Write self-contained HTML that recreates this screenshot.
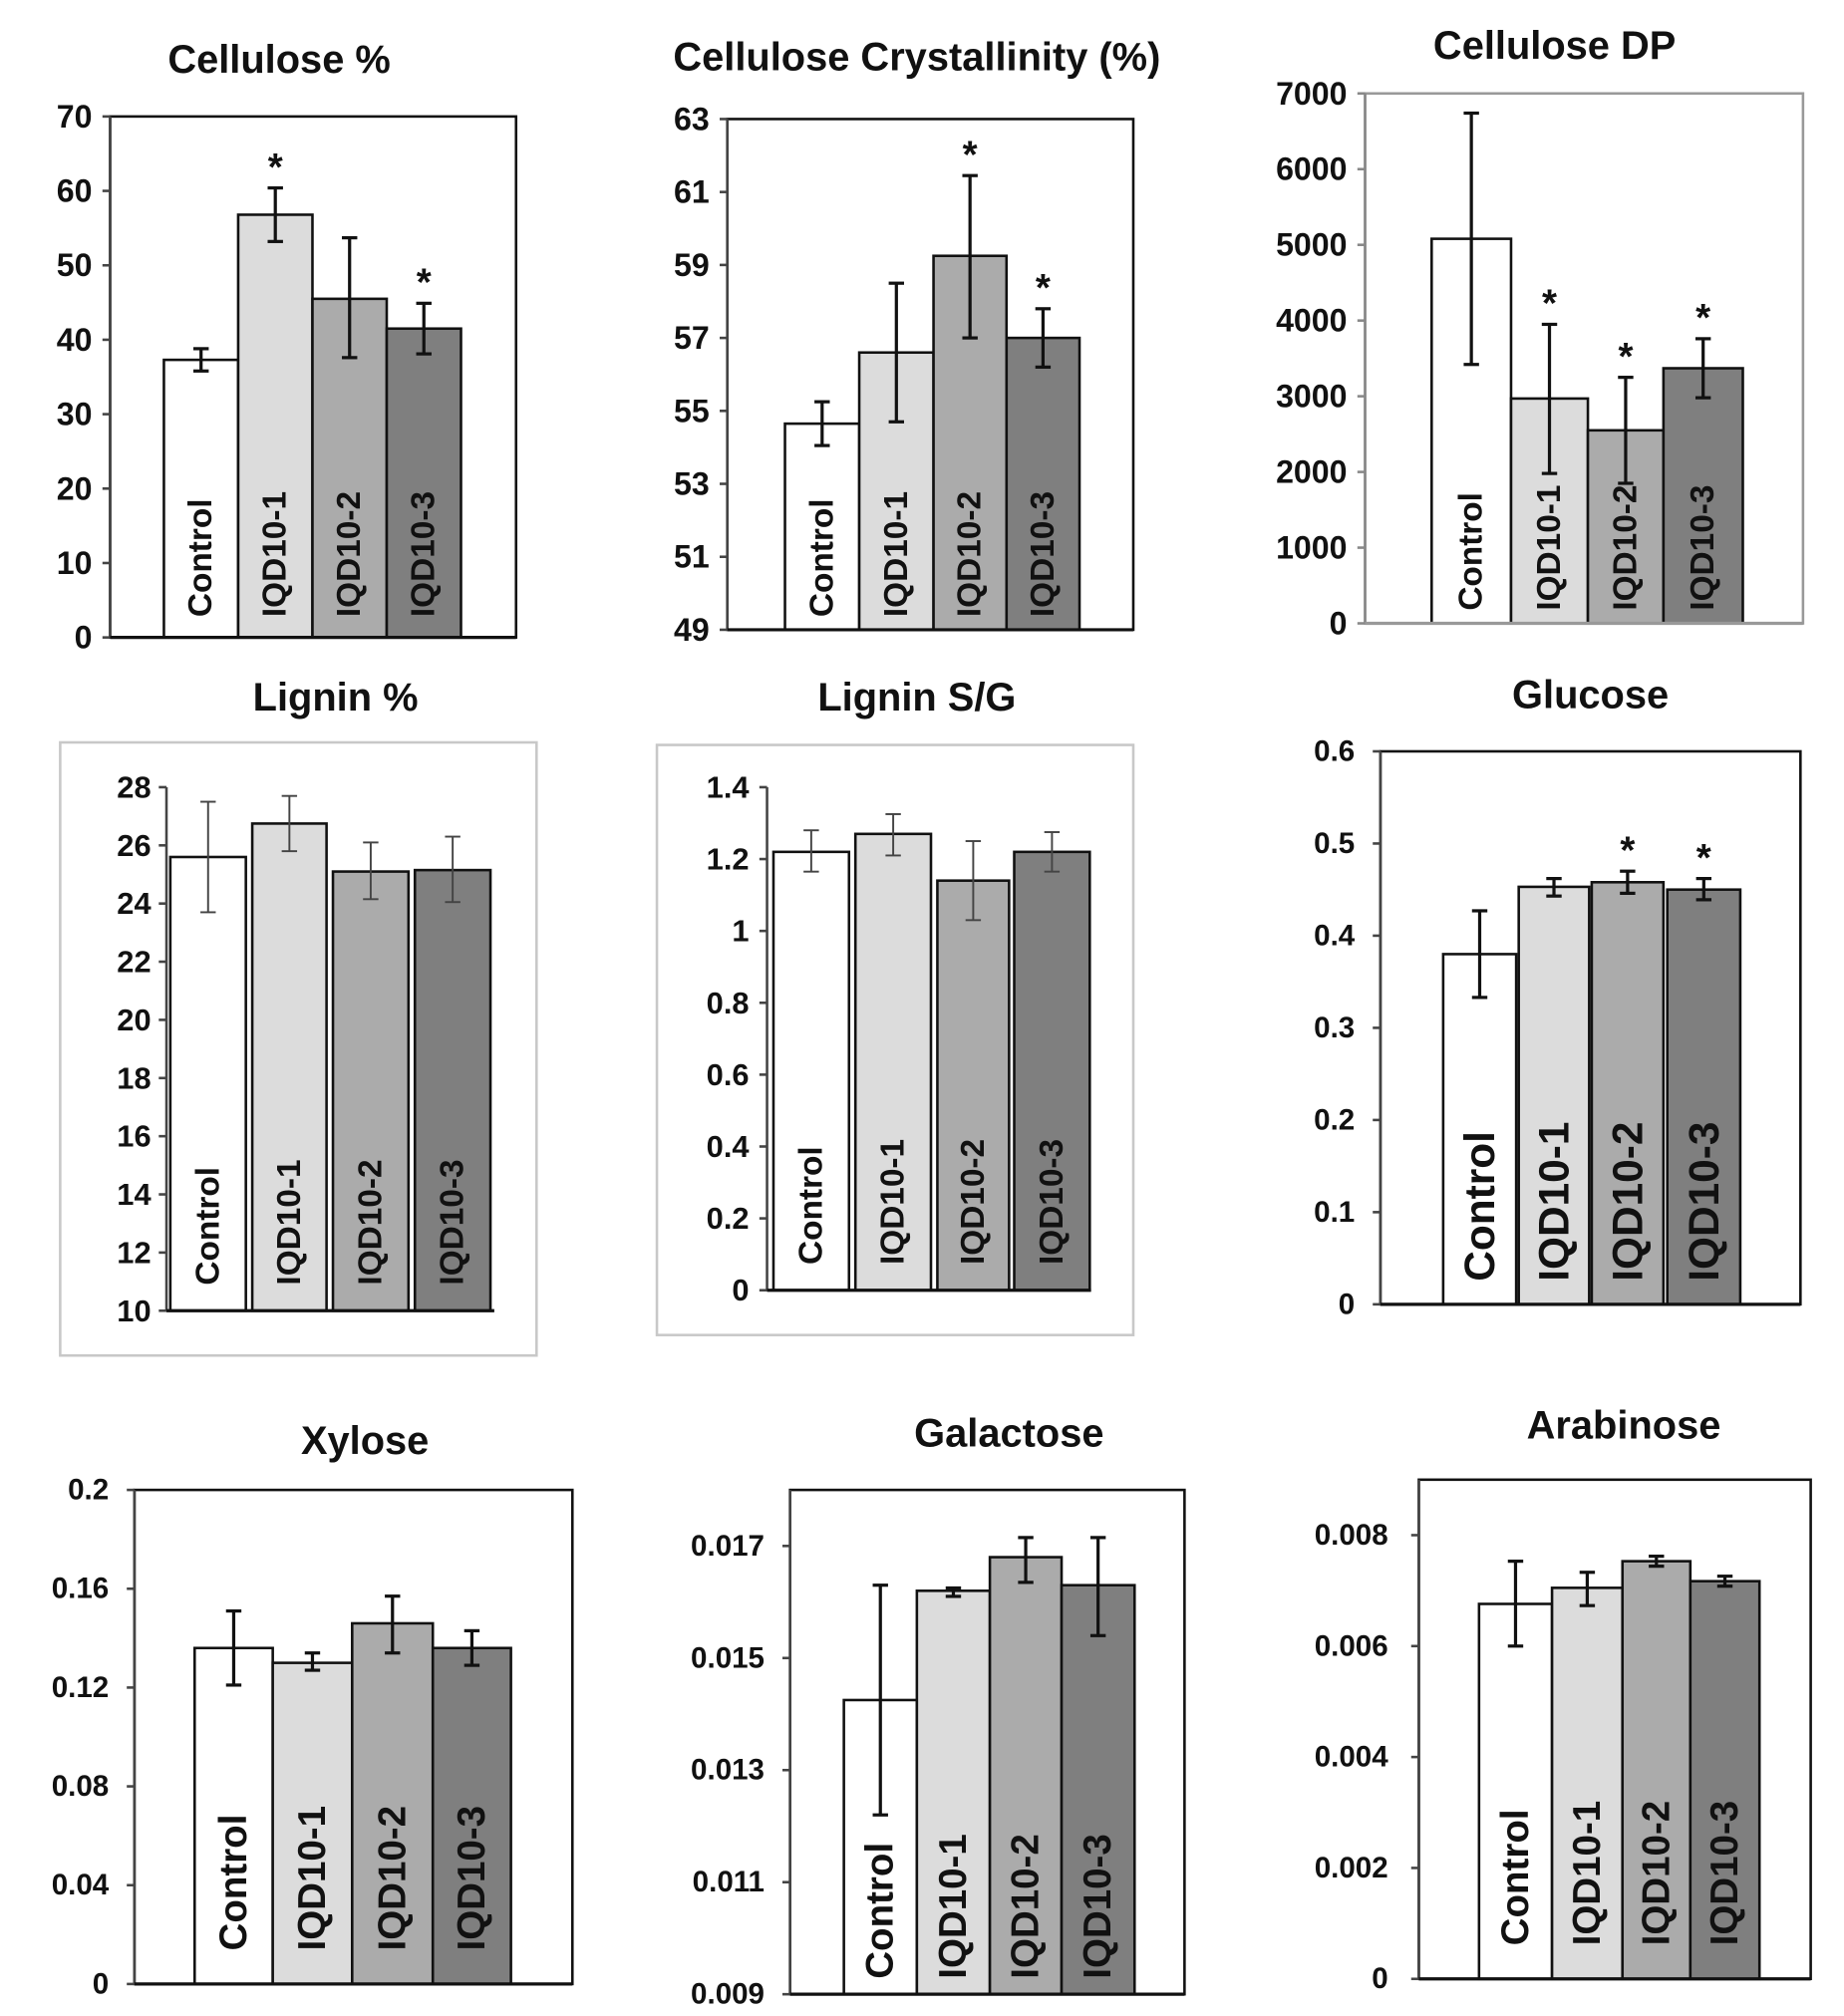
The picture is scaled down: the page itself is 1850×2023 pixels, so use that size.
<!DOCTYPE html>
<html><head><meta charset="utf-8">
<style>
html,body{margin:0;padding:0;background:#fff;}
svg{display:block;}
text{font-family:"Liberation Sans",sans-serif;font-weight:bold;fill:#111;}
</style></head>
<body>
<svg id="fig" width="1850" height="2023" viewBox="0 0 1440 1575" preserveAspectRatio="none" xmlns="http://www.w3.org/2000/svg"></svg>
<script>
// ---- data (means, error low, error high, significance stars) ----
const categories = ["Control","IQD10-1","IQD10-2","IQD10-3"];

const celluloseMean = [37.3, 56.8, 45.5, 41.5];
const celluloseLo   = [35.8, 53.2, 37.6, 38.1];
const celluloseHi   = [38.8, 60.4, 53.7, 44.9];
const celluloseStar = [0,1,0,1];
const celluloseTicks = [0,10,20,30,40,50,60,70];

const crystMean = [54.65, 56.6, 59.25, 57.0];
const crystLo   = [54.05, 54.7, 57.0, 56.2];
const crystHi   = [55.25, 58.5, 61.45, 57.8];
const crystStar = [0,0,1,1];
const crystTicks = [49,51,53,55,57,59,61,63];

const dpMean = [5080, 2970, 2550, 3370];
const dpLo   = [3420, 1980, 1850, 2980];
const dpHi   = [6740, 3950, 3250, 3760];
const dpStar = [0,1,1,1];
const dpTicks = [0,1000,2000,3000,4000,5000,6000,7000];

const ligninMean = [25.6, 26.75, 25.1, 25.15];
const ligninLo   = [23.7, 25.8, 24.15, 24.05];
const ligninHi   = [27.5, 27.7, 26.1, 26.3];
const ligninStar = [0,0,0,0];
const ligninTicks = [10,12,14,16,18,20,22,24,26,28];

const sgMean = [1.22, 1.27, 1.14, 1.22];
const sgLo   = [1.165, 1.21, 1.03, 1.165];
const sgHi   = [1.28, 1.325, 1.25, 1.275];
const sgStar = [0,0,0,0];
const sgTicks = [0,0.2,0.4,0.6,0.8,1,1.2,1.4];

const glucoseMean = [0.38, 0.453, 0.458, 0.45];
const glucoseLo   = [0.333, 0.443, 0.446, 0.439];
const glucoseHi   = [0.427, 0.462, 0.470, 0.462];
const glucoseStar = [0,0,1,1];
const glucoseTicks = [0,0.1,0.2,0.3,0.4,0.5,0.6];

const xyloseMean = [0.136, 0.130, 0.146, 0.136];
const xyloseLo   = [0.121, 0.127, 0.134, 0.129];
const xyloseHi   = [0.151, 0.134, 0.157, 0.143];
const xyloseStar = [0,0,0,0];
const xyloseTicks = [0,0.04,0.08,0.12,0.16,0.2];

const galactoseMean = [0.01425, 0.0162, 0.0168, 0.0163];
const galactoseLo   = [0.0122, 0.0161, 0.01635, 0.0154];
const galactoseHi   = [0.0163, 0.01625, 0.01715, 0.01715];
const galactoseStar = [0,0,0,0];
const galactoseTicks = [0.009,0.011,0.013,0.015,0.017];

const arabinoseMean = [0.00676, 0.00705, 0.00753, 0.00717];
const arabinoseLo   = [0.0060, 0.00673, 0.00744, 0.00708];
const arabinoseHi   = [0.00753, 0.00733, 0.00762, 0.00726];
const arabinoseStar = [0,0,0,0];
const arabinoseTicks = [0,0.002,0.004,0.006,0.008];

// ---- layout ----
const NS = "http://www.w3.org/2000/svg";
const svg = document.getElementById('fig');
const fills = ["#ffffff","#dcdcdc","#ababab","#7f7f7f"];
function mk(tag, attrs, parent){
  const e = document.createElementNS(NS, tag);
  for (const k in attrs) e.setAttribute(k, attrs[k]);
  (parent||svg).appendChild(e);
  return e;
}

function panel(p, mean, lo, hi, star, ticks){
  const g = mk('g', {});
  
  
  const y = v => p.yb - (v - p.vmin) / (p.vmax - p.vmin) * (p.yb - p.yt);
  if (p.outer){
    const ob = mk('rect', {x:p.outer[0], y:p.outer[1], width:p.outer[2]-p.outer[0], height:p.outer[3]-p.outer[1], fill:'none', stroke:'#c8c8c8', 'stroke-width':2}, g);
    
    
  }
  const t = mk('text', {x:p.tx, y:p.ty, 'text-anchor':'middle', 'font-size':p.tfs||31}, g);
  t.textContent = p.title;
  
  
  if (p.frame){
    const fr = mk('rect', {x:p.ax, y:p.yt, width:p.fx1-p.ax, height:p.yb-p.yt, fill:'none', stroke:p.frame, 'stroke-width':2}, g);
    
    
  }
  for (let i=0;i<categories.length;i++){
    const x0 = p.bars[i][0], x1 = p.bars[i][1];
    const yv = y(mean[i]);
    const r = mk('rect', {x:x0, y:yv, width:x1-x0, height:p.yb-yv, fill:fills[i], stroke:'#111', 'stroke-width':2}, g);
    
    
    const cx = (x0+x1)/2;
    const lab = mk('text', {x:0, y:0, transform:`translate(${cx},${p.yb-p.lpad}) rotate(-90)`, 'font-size':p.lfs, 'dominant-baseline':'central', fill:'#111'}, g);
    lab.textContent = categories[i];
    
    
    const ec = p.ecol || '#111', ew = p.ew || 2.5, cap = p.cap || 6;
    const eg = mk('g', {stroke:ec, 'stroke-width':ew}, g);
    
    
    mk('line', {x1:cx, x2:cx, y1:y(lo[i]), y2:y(hi[i])}, eg);
    mk('line', {x1:cx-cap, x2:cx+cap, y1:y(lo[i]), y2:y(lo[i])}, eg);
    mk('line', {x1:cx-cap, x2:cx+cap, y1:y(hi[i]), y2:y(hi[i])}, eg);
    if (star[i]){
      const s = mk('text', {x:cx, y:y(hi[i]) - 6, 'text-anchor':'middle', 'font-size':30}, g);
      s.textContent = '*';
      
      
    }
  }
  const axc = p.axcol || '#444';
  const ax = mk('line', {x1:p.ax, x2:p.ax, y1:p.yt, y2:p.yb, stroke:axc, 'stroke-width':2}, g);
  
  
  const base = mk('line', {x1:p.ax, x2:p.fx1, y1:p.yb, y2:p.yb, stroke:p.basecol||'#111', 'stroke-width':2.5}, g);
  
  
  for (const v of ticks){
    const yy = y(v);
    mk('line', {x1:p.ax-6, x2:p.ax, y1:yy, y2:yy, stroke:axc, 'stroke-width':2}, g);
    const tl = mk('text', {x:p.ax-(p.tgap||14), y:yy, 'text-anchor':'end', 'dominant-baseline':'central', 'font-size':p.tkfs||22, 'font-family':p.tkff||'"Liberation Sans",sans-serif'}, g);
    tl.textContent = String(v);
    
    
  }
}

panel({id:'cellulose', title:'Cellulose %', tx:218, ty:57, ax:86, fx1:403, yt:91, yb:498, vmin:0, vmax:70, frame:'#111',
  bars:[[128,186],[186,244],[244,302],[302,360]], lfs:26, lpad:16, tkfs:25}, celluloseMean, celluloseLo, celluloseHi, celluloseStar, celluloseTicks);
panel({id:'crystallinity', title:'Cellulose Crystallinity (%)', tx:716, ty:55, ax:568, fx1:885, yt:93, yb:492, vmin:49, vmax:63, frame:'#111',
  bars:[[613,671],[671,729],[729,786],[786,843]], lfs:26, lpad:10, tkfs:25}, crystMean, crystLo, crystHi, crystStar, crystTicks);
panel({id:'dp', title:'Cellulose DP', tx:1214, ty:46, ax:1066, fx1:1408, yt:73, yb:487, vmin:0, vmax:7000, frame:'#999', axcol:'#888', basecol:'#999',
  bars:[[1118,1180],[1180,1240],[1240,1299],[1299,1361]], lfs:26, lpad:10, tkfs:25}, dpMean, dpLo, dpHi, dpStar, dpTicks);

panel({id:'lignin', title:'Lignin %', tx:262, ty:555, ax:130, fx1:386, yt:615, yb:1024, vmin:10, vmax:28, outer:[47,580,419,1059],
  bars:[[133,192],[197,255],[260,319],[324,383]], lfs:26, lpad:20, ecol:'#444', ew:1.5, tkfs:24, tkff:'"Liberation Sans Narrow","Liberation Sans",sans-serif', tgap:12}, ligninMean, ligninLo, ligninHi, ligninStar, ligninTicks);
panel({id:'lignin-sg', title:'Lignin S/G', tx:716, ty:555, ax:599, fx1:852, yt:615, yb:1008, vmin:0, vmax:1.4, outer:[513,582,885,1043],
  bars:[[604,663],[668,727],[732,788],[792,851]], lfs:26, lpad:20, ecol:'#444', ew:1.5, tkfs:24, tkff:'"Liberation Sans Narrow","Liberation Sans",sans-serif', tgap:14}, sgMean, sgLo, sgHi, sgStar, sgTicks);
panel({id:'glucose', title:'Glucose', tx:1242, ty:553, ax:1078, fx1:1406, yt:587, yb:1019, vmin:0, vmax:0.6, frame:'#111',
  bars:[[1127,1184],[1186,1241],[1243,1299],[1302,1359]], lfs:33, lpad:18, tkfs:23, tgap:20}, glucoseMean, glucoseLo, glucoseHi, glucoseStar, glucoseTicks);

panel({id:'xylose', title:'Xylose', tx:285, ty:1136, ax:105, fx1:447, yt:1164, yb:1550, vmin:0, vmax:0.2, frame:'#111',
  bars:[[152,213],[213,275],[275,338],[338,399]], lfs:30, lpad:26, tkfs:23, tgap:20}, xyloseMean, xyloseLo, xyloseHi, xyloseStar, xyloseTicks);
panel({id:'galactose', title:'Galactose', tx:788, ty:1130, ax:617, fx1:925, yt:1164, yb:1558, vmin:0.009, vmax:0.018, frame:'#111',
  bars:[[659,716],[716,773],[773,829],[829,886]], lfs:30, lpad:12, tkfs:23, tgap:20}, galactoseMean, galactoseLo, galactoseHi, galactoseStar, galactoseTicks);
panel({id:'arabinose', title:'Arabinose', tx:1268, ty:1124, ax:1108, fx1:1414, yt:1156, yb:1546, vmin:0, vmax:0.009, frame:'#111',
  bars:[[1155,1212],[1212,1267],[1267,1320],[1320,1374]], lfs:30, lpad:26, tkfs:23, tgap:24}, arabinoseMean, arabinoseLo, arabinoseHi, arabinoseStar, arabinoseTicks);
</script>
</body></html>
